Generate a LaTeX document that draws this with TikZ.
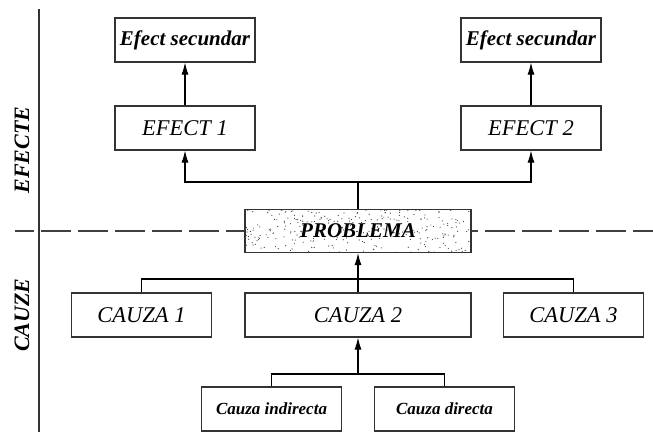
\documentclass[tikz,border=0pt]{standalone}
\usepackage{fontspec}
\setmainfont{Liberation Serif}
\usetikzlibrary{arrows.meta,calc}

\begin{document}
\begin{tikzpicture}[
		x=1pt, y=-1pt,
		every node/.style={rectangle, draw=black!80, line width=1.1pt, fill=white, inner sep=0pt, font=\itshape\fontsize{22.5}{24}\selectfont},
		box/.style={minimum width=140pt, minimum height=44pt},
		widebox/.style={minimum width=226pt, minimum height=43pt},
		smallbox/.style={box, font=\bfseries\itshape\fontsize{17}{20}\selectfont},
		sidelabel/.style={draw=none, fill=none, rotate=90, font=\bfseries\itshape\fontsize{22}{24}\selectfont},
		speckle/.style={path picture={
			\pgfmathsetseed{11}
			\foreach \k in {1,...,300}
				\fill[black!75] ($(path picture bounding box.north west)+(rnd*226, rnd*43)$) circle (0.6pt);
		}},
		arr/.style={-{Latex[length=12pt, width=7pt]}},
		line width=1.1pt
	]
  \useasboundingbox (0, 0) rectangle (653, 432);
  \coordinate (ax_top) at (39, 9);
  \coordinate (ax_bot) at (39, 432);
  \coordinate (dash_l) at (15, 231);
  \coordinate (dash_r) at (653, 231);
  \coordinate (top_bar) at (358, 182);
  \coordinate (mid_bar) at (358, 279);
  \coordinate (low_bar) at (358, 374);
  \draw [black!80] (ax_top) -- (ax_bot);
  \draw [black!75, dash pattern=on 30pt off 7pt, dash phase=11pt] (dash_l) -- (dash_r);

  \node (efecte) [sidelabel] at (22, 150) {EFECTE};
  \node (cauze) [sidelabel] at (22, 315) {CAUZE};

  \node (sec_1) [box, font=\bfseries\itshape\fontsize{21}{24}\selectfont] at (185, 40) {Efect secundar};
  \node (sec_2) [box, font=\bfseries\itshape\fontsize{21}{24}\selectfont] at (531, 40) {Efect secundar};
  \node (ef_1) [box] at (185, 128) {EFECT 1};
  \node (ef_2) [box] at (531, 128) {EFECT 2};
  \node (prob) [widebox, speckle, font=\bfseries\itshape\fontsize{21}{24}\selectfont] at (358, 231) {PROBLEMA};
  \node (c_1) [box] at (141.5, 315) {CAUZA 1};
  \node (c_2) [widebox, minimum height=44pt] at (358, 315) {CAUZA 2};
  \node (c_3) [box] at (573.5, 315) {CAUZA 3};
  \node (c_ind) [smallbox] at (271.5, 409) {Cauza indirecta};
  \node (c_dir) [smallbox] at (444.5, 409) {Cauza directa};

  \draw [arr] (ef_1) -- (sec_1);
  \draw [arr] (ef_2) -- (sec_2);
  \draw [arr] (prob.north) -- (top_bar) -| (ef_1.south);
  \draw [arr] (top_bar) -| (ef_2.south);
  \draw [arr] (mid_bar) -- (prob.south);
  \draw (c_2.north) -- (mid_bar);
  \draw (c_1.north) |- (mid_bar) -| (c_3.north);
  \draw [arr] (low_bar) -- (c_2.south);
  \draw (c_ind.north) |- (low_bar) -| (c_dir.north);
\end{tikzpicture}
\end{document}
